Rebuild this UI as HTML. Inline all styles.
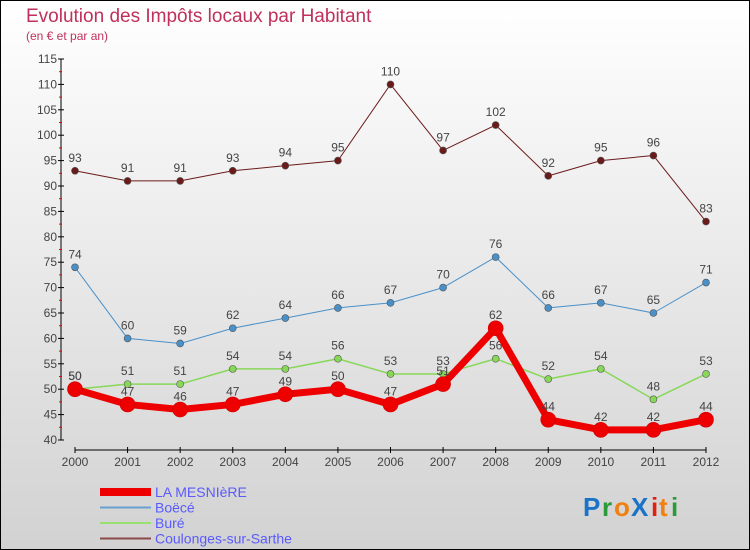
<!DOCTYPE html>
<html><head><meta charset="utf-8"><style>
body{margin:0;width:750px;height:550px;overflow:hidden}
#c{position:absolute;left:0;top:0;width:748px;height:548px;border:1px solid #000;background:linear-gradient(#ffffff,#d2d2d2)}
svg{position:absolute;left:0;top:0}
text{font-family:"Liberation Sans",sans-serif}
</style></head><body>
<div id="c"></div>
<svg id="s" width="750" height="550">
<text x="26" y="22" font-size="19" fill="#c0305c">Evolution des Impôts locaux par Habitant</text>
<text x="26" y="40" font-size="12" fill="#c0305c">(en € et par an)</text>
<g font-size="26" font-weight="bold">
<text x="583" y="516" fill="#1a73c8">P</text><text x="602" y="516" fill="#2a9a3a">r</text><text x="614" y="516" fill="#f08010">o</text><text x="631" y="516" fill="#1a73c8">X</text><text x="651" y="516" fill="#e02010">i</text><text x="659" y="516" fill="#f08010">t</text><text x="671" y="516" fill="#2a9a3a">i</text>
</g>
</svg>
<script>
const years=[2000,2001,2002,2003,2004,2005,2006,2007,2008,2009,2010,2011,2012];
const yTicks=[40,45,50,55,60,65,70,75,80,85,90,95,100,105,110,115];
const mesniere=[50,47,46,47,49,50,47,51,62,44,42,42,44];
const boece=[74,60,59,62,64,66,67,70,76,66,67,65,71];
const bure=[50,51,51,54,54,56,53,53,56,52,54,48,53];
const coulonges=[93,91,91,93,94,95,110,97,102,92,95,96,83];
const names=["LA MESNIèRE","Boëcé","Buré","Coulonges-sur-Sarthe"];
const s=document.getElementById('s');const NS='http://www.w3.org/2000/svg';
function X(i){return 75+i*(706-75)/12}
function Y(v){return 440-(v-40)*(440-59)/75}
function mk(t,a,p){const e=document.createElementNS(NS,t);for(const k in a)e.setAttribute(k,a[k]);(p||s).appendChild(e);return e}
// axes
let ax=mk('g',{});


mk('line',{x1:61,y1:59,x2:61,y2:440,stroke:'#000'},ax);
mk('line',{x1:75,y1:450,x2:706,y2:450,stroke:'#000'},ax);
yTicks.forEach(v=>{mk('line',{x1:58,y1:Y(v),x2:64,y2:Y(v),stroke:'#000'},ax);
 if(v<115)mk('line',{x1:59,y1:Y(v+2.5),x2:62,y2:Y(v+2.5),stroke:'#e00'},ax);
 const t=mk('text',{x:57,y:Y(v)+4,'font-size':12,fill:'#444','text-anchor':'end'},ax);t.textContent=v;
 
 });
years.forEach((y,i)=>{mk('line',{x1:X(i),y1:447,x2:X(i),y2:453,stroke:'#000'},ax);
 const t=mk('text',{x:X(i),y:466,'font-size':12,fill:'#444','text-anchor':'middle'},ax);t.textContent=y;
 
 });
const series=[[coulonges,'#6b1a1a',1,3.5,'coulonges-series'],[boece,'#4a90c8',1,3.5,'boece-series'],[bure,'#88d858',1.5,3.5,'bure-series'],[mesniere,'#ee0000',7,7.5,'la-mesniere-series']];
series.forEach(([d,c,w,r,n])=>{const g=mk('g',{});
 
 
 mk('polyline',{points:d.map((v,i)=>X(i)+','+Y(v)).join(' '),fill:'none',stroke:c,'stroke-width':w,'stroke-linejoin':'round'},g);
 d.forEach((v,i)=>{const p=mk('circle',{cx:X(i),cy:Y(v),r:r,fill:c,stroke:w>2?'#c00':'#555','stroke-width':0.6},g);
  
  
  const t=mk('text',{x:X(i),y:Y(v)-9,'font-size':12,fill:'#444','text-anchor':'middle'},g);t.textContent=v;
  
  });});
const lc=['#ee0000','#6aa0d0','#98e070','#8a4a4a'],lw=[8,2,2,2];
names.forEach((n,i)=>{const g=mk('g',{});
 
 
 const y=492+i*15.5;
 mk('line',{x1:100,y1:y,x2:151,y2:y,stroke:lc[i],'stroke-width':lw[i]},g);
 const t=mk('text',{x:155,y:y+5,'font-size':14,fill:'#5a5aff'},g);t.textContent=n;});
</script>
</body></html>
